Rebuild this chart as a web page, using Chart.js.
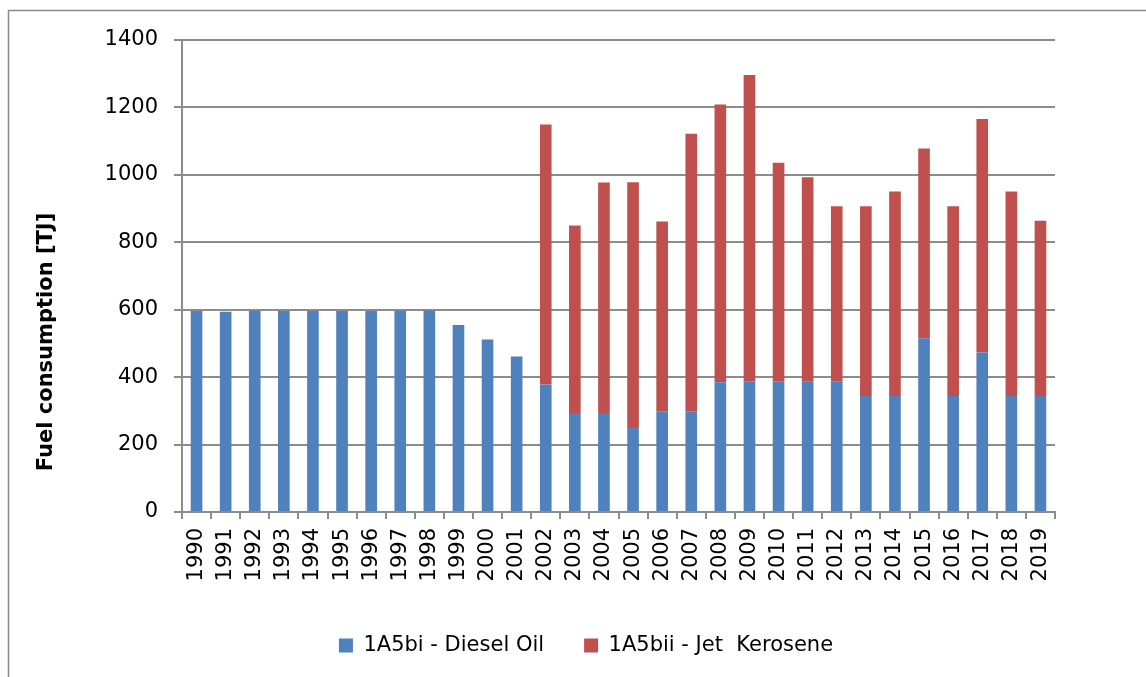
<!DOCTYPE html>
<html>
<head>
<meta charset="utf-8">
<script src="https://cdn.jsdelivr.net/npm/chart.js@4"></script>
<style>
  html, body { margin: 0; padding: 0; background: #fff; }
  #wrap { position: relative; width: 1146px; height: 677px; }
</style>
</head>
<body>
<div id="wrap"><canvas id="chart" width="1146" height="677"></canvas></div>
<script>
const years = ["1990","1991","1992","1993","1994","1995","1996","1997","1998","1999",
  "2000","2001","2002","2003","2004","2005","2006","2007","2008","2009",
  "2010","2011","2012","2013","2014","2015","2016","2017","2018","2019"];

// 1A5bi - Diesel Oil [TJ]
const dieselOil = [596, 594, 596, 596, 596, 596, 596, 598, 598, 555,
  512, 461, 378, 294, 294, 249, 299, 299, 385, 386,
  386, 386, 386, 344, 344, 515, 344, 473, 344, 344];

// 1A5bii - Jet Kerosene [TJ]
const jetKerosene = [0, 0, 0, 0, 0, 0, 0, 0, 0, 0,
  0, 0, 771, 556, 683, 729, 563, 823, 824, 910,
  650, 607, 521, 563, 607, 563, 563, 693, 607, 520];

const yTicks = [0, 200, 400, 600, 800, 1000, 1200, 1400];
const yTitle = "Fuel consumption [TJ]";

const FONT = "'DejaVu Sans', sans-serif";
const GRID = "#8c8c8c";

// thin frame round the whole chart, like the Excel chart area
const framePlugin = {
  id: "frame",
  beforeDraw(chart) {
    const ctx = chart.ctx;
    ctx.save();
    ctx.strokeStyle = "#8a8a8a";
    ctx.lineWidth = 1.5;
    ctx.strokeRect(8.5, 10.5, 1150, 680);
    ctx.restore();
  }
};

// Excel puts the axis title a bit lower than the middle of the plot
const yTitlePlugin = {
  id: "yTitle",
  afterDraw(chart) {
    const ctx = chart.ctx;
    ctx.save();
    ctx.translate(47, 342);
    ctx.rotate(-Math.PI / 2);
    ctx.font = "bold 21px " + FONT;
    ctx.fillStyle = "#000";
    ctx.textAlign = "center";
    ctx.textBaseline = "middle";
    ctx.fillText(yTitle, 0, 0);
    ctx.restore();
  }
};

new Chart(document.getElementById("chart"), {
  type: "bar",
  data: {
    labels: years,
    datasets: [
      { label: "1A5bi - Diesel Oil", data: dieselOil, backgroundColor: "#4F81BD", borderWidth: 0 },
      { label: "1A5bii - Jet  Kerosene", data: jetKerosene, backgroundColor: "#C0504D", borderWidth: 0 }
    ]
  },
  options: {
    responsive: false,
    animation: false,
    layout: { padding: { left: 26, right: 0, top: 40, bottom: 11 } },
    datasets: { bar: { categoryPercentage: 1.0, barPercentage: 0.4 } },
    plugins: {
      tooltip: { enabled: false },
      legend: {
        position: "bottom",
        labels: {
          font: { family: FONT, size: 21 },
          color: "#000",
          boxWidth: 14,
          boxHeight: 14,
          padding: 40
        }
      }
    },
    scales: {
      x: {
        stacked: true,
        grid: { display: true, drawOnChartArea: false, offset: true, tickLength: 7, color: GRID, lineWidth: 2 },
        border: { color: GRID, width: 2 },
        ticks: { font: { family: FONT, size: 21 }, color: "#000", minRotation: 90, maxRotation: 90, padding: 9, autoSkip: false },
        afterFit: s => { s.height = 83; }
      },
      y: {
        stacked: true,
        min: 0,
        max: 1400,
        afterBuildTicks: s => { s.ticks = yTicks.map(v => ({ value: v })); },
        grid: { color: GRID, lineWidth: 2, tickLength: 8 },
        border: { color: GRID, width: 2 },
        ticks: { font: { family: FONT, size: 21 }, color: "#000", padding: 16, callback: v => String(v) },
        afterFit: s => { s.width = 156; }
      },
      yRight: {
        position: "right",
        display: true,
        grid: { display: false },
        border: { display: false },
        ticks: { display: false },
        afterFit: s => { s.width = 91; }
      }
    }
  },
  plugins: [framePlugin, yTitlePlugin]
});
</script>
</body>
</html>
